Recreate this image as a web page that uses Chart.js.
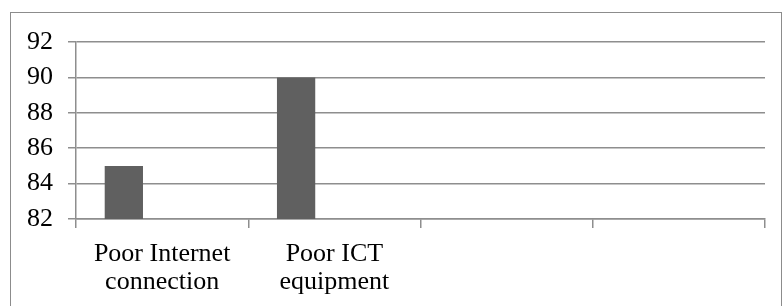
<!DOCTYPE html>
<html>
<head>
<meta charset="utf-8">
<script src="https://cdn.jsdelivr.net/npm/chart.js@4/dist/chart.umd.min.js"></script>
<style>
html,body{margin:0;padding:0;background:#fff;}
#wrap{position:relative;width:783px;height:306px;}
</style>
</head>
<body>
<div id="wrap"><canvas id="c" width="783" height="306"></canvas></div>
<script>
const categories = [["Poor Internet","connection"], ["Poor ICT","equipment"], "", ""];
const series1 = [85, 90, null, null];
const series2 = [null, null, null, null];
const series3 = [null, null, null, null];
const yMin = 82, yMax = 92, yStep = 2;

const GRID = '#8e8e8e';
const FONT = {family: "'Liberation Serif', 'Times New Roman', serif", size: 26, lineHeight: 1.09};

const frame = {
  id: 'frame',
  beforeDraw(chart) {
    const ctx = chart.ctx;
    ctx.save();
    ctx.strokeStyle = '#8c8c8c';
    ctx.lineWidth = 1;
    ctx.strokeRect(10.5, 12.5, 771, 400);
    ctx.restore();
  }
};

new Chart(document.getElementById('c'), {
  type: 'bar',
  data: {
    labels: categories,
    datasets: [
      {label: 'Series1', data: series1, backgroundColor: '#606060'},
      {label: 'Series2', data: series2, backgroundColor: '#606060'},
      {label: 'Series3', data: series3, backgroundColor: '#606060'}
    ]
  },
  options: {
    responsive: false,
    animation: false,
    events: [],
    layout: {padding: {left: 0, top: 42, right: 18, bottom: 0}},
    datasets: {bar: {categoryPercentage: 3/4.5, barPercentage: 1.0}},
    plugins: {legend: {display: false}, tooltip: {enabled: false}},
    scales: {
      x: {
        grid: {offset: true, drawOnChartArea: false, drawTicks: true, tickLength: 9, color: GRID, lineWidth: 1.5},
        border: {display: true, color: GRID, width: 1.5},
        ticks: {color: '#000', font: FONT, padding: 12, maxRotation: 0, autoSkip: false},
        afterFit(s) { s.height = 87; }
      },
      y: {
        min: yMin, max: yMax,
        grid: {color: GRID, tickLength: 8, lineWidth: 1.5},
        border: {display: true, color: GRID, width: 1.5},
        ticks: {stepSize: yStep, color: '#000', font: FONT, padding: 15},
        afterFit(s) { s.width = 76; }
      }
    }
  },
  plugins: [frame]
});
</script>
</body>
</html>
